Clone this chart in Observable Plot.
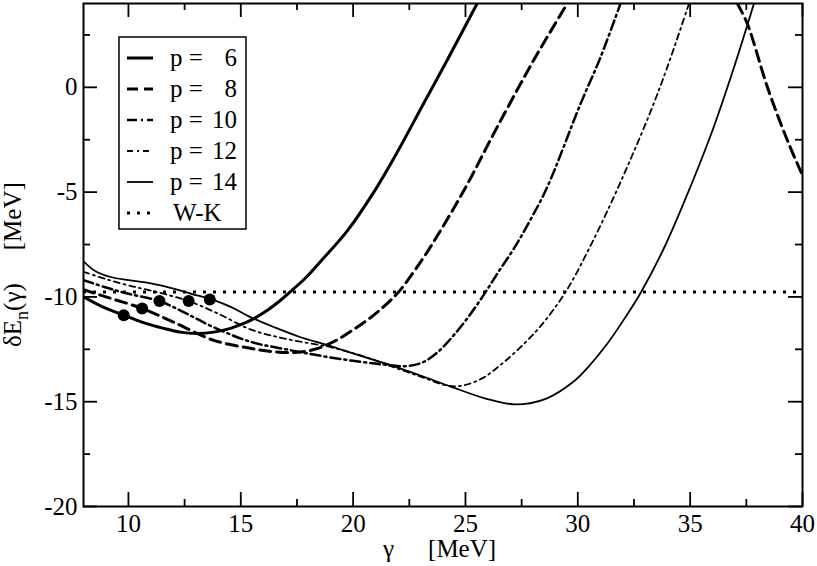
<!DOCTYPE html>
<html><head><meta charset="utf-8">
<script src="https://cdn.jsdelivr.net/npm/d3@7"></script>
<script src="https://cdn.jsdelivr.net/npm/@observablehq/plot@0.6"></script>
<style>body{margin:0;background:#fff}</style>
</head><body><div id="chart"></div>
<script>
// Series: [gamma (MeV), deltaE (MeV)]
const p6 = [[8,-10.0],[8.8,-10.45],[9.79,-10.87],[10.6,-11.2],[11.57,-11.5],[12.3,-11.68],[13.06,-11.74],[13.8,-11.68],[14.54,-11.5],[15.0,-11.32],[15.5,-11.08],[16.1,-10.7],[16.77,-10.16],[17.1,-9.85],[17.88,-9.1],[18.6,-8.25],[19.74,-6.85],[20.92,-5.0],[21.96,-3.1],[23.15,-0.75],[24.19,1.3],[25.52,4.0]];
const p8 = [[8,-9.65],[9,-10.0],[10.61,-10.55],[12,-11.2],[13.8,-12.07],[15.43,-12.45],[16.5,-12.62],[17.4,-12.65],[18.3,-12.5],[19.2,-12.1],[20.1,-11.5],[21.0,-10.8],[21.96,-9.84],[22.7,-8.8],[23.45,-7.6],[24.93,-4.92],[26.41,-1.9],[28.04,1.3],[29.53,4.0],[33,NaN],[37.1,4.0],[37.55,3.02],[38.44,0],[39.33,-2.54],[40,-4.2]];
const p10 = [[8,-9.2],[9,-9.55],[10,-9.85],[11.38,-10.2],[12.5,-10.75],[13.8,-11.45],[15.43,-12.14],[17,-12.5],[18.5,-12.8],[20,-13.05],[21.3,-13.22],[22.4,-13.3],[23.1,-13.12],[23.8,-12.6],[24.5,-11.8],[25.2,-10.85],[25.9,-9.76],[26.5,-8.75],[27.15,-7.7],[27.9,-6.3],[28.64,-4.76],[30.12,-0.79],[31.01,1.43],[31.9,4.0]];
const p12 = [[8,-8.8],[9,-9.15],[10,-9.45],[11.2,-9.75],[12.68,-10.2],[14,-10.8],[15.43,-11.55],[17,-12.0],[19,-12.4],[20.5,-12.85],[21.8,-13.35],[23,-13.8],[24.3,-14.25],[25,-14.2],[25.8,-13.85],[26.5,-13.3],[27.3,-12.55],[28.3,-11.45],[29.46,-9.76],[30.5,-7.7],[31.53,-5.4],[32.4,-3.3],[33.24,-1.15],[33.98,0.95],[34.95,4.0]];
const p14 = [[8,-8.3],[8.5,-8.75],[9.2,-9.05],[10,-9.2],[11,-9.35],[12,-9.6],[12.8,-9.85],[13.8,-10.15],[14.6,-10.5],[15.4,-10.95],[16.5,-11.45],[17.6,-11.9],[18.85,-12.3],[20.3,-12.8],[21.8,-13.3],[23,-13.75],[24.4,-14.3],[25.9,-14.85],[27.25,-15.13],[28.6,-14.85],[29.8,-14.05],[30.5,-13.3],[31.3,-12.25],[32.1,-11.0],[32.8,-9.8],[33.8,-7.75],[34.72,-5.5],[35.91,-2.3],[36.95,0.95],[37.84,4.0]];
const wkLevel = -9.76;
const dotsX = [9.79, 10.61, 11.38, 12.68, 13.62];
const dotsY = [-10.87, -10.55, -10.2, -10.2, -10.12];
const xMajor = [10, 15, 20, 25, 30, 35, 40];
const xMinor = [12.5, 17.5, 22.5, 27.5, 32.5, 37.5];
const yMajor = [-20, -15, -10, -5, 0];
const yMinor = [-17.5, -12.5, -7.5, -2.5, 2.5];
const legendP = ["6", "8", "10", "12", "14"];

const W = 817, H = 566, mL = 83, mR = 15, mT = 3, mB = 60;
const fw = W - mL - mR, fh = H - mT - mB;
const styles = [
  {data: p6, strokeWidth: 3, dash: null},
  {data: p8, strokeWidth: 3, dash: "11,6"},
  {data: p10, strokeWidth: 2.5, dash: "10,4,2,4"},
  {data: p12, strokeWidth: 1.8, dash: "6,4,2,4"},
  {data: p14, strokeWidth: 1.8, dash: null}
];
const font = "'Liberation Serif', 'Times New Roman', serif";
const tf = d => String(d);

const marks = [];
for (const s of styles) {
  marks.push(Plot.line(s.data, {x: d => d[0], y: d => d[1], stroke: "black", strokeWidth: s.strokeWidth,
    strokeDasharray: s.dash, curve: "catmull-rom", clip: true}));
}
marks.push(Plot.ruleY([wkLevel], {stroke: "black", strokeWidth: 3, strokeDasharray: "3,7"}));
marks.push(Plot.dot(dotsX.map((x, i) => ({x, y: dotsY[i]})), {x: "x", y: "y", r: 6, fill: "black", stroke: "none"}));
// inward ticks on all four sides
marks.push(Plot.tickX(xMajor, {x: d => d, insetTop: fh - 14, strokeWidth: 1.8}));
marks.push(Plot.tickX(xMinor, {x: d => d, insetTop: fh - 7, strokeWidth: 1.8}));
marks.push(Plot.tickX(xMajor, {x: d => d, insetBottom: fh - 14, strokeWidth: 1.8}));
marks.push(Plot.tickX(xMinor, {x: d => d, insetBottom: fh - 7, strokeWidth: 1.8}));
marks.push(Plot.tickY(yMajor, {y: d => d, insetRight: fw - 14, strokeWidth: 1.8}));
marks.push(Plot.tickY(yMinor, {y: d => d, insetRight: fw - 7, strokeWidth: 1.8}));
marks.push(Plot.tickY(yMajor, {y: d => d, insetLeft: fw - 14, strokeWidth: 1.8}));
marks.push(Plot.tickY(yMinor, {y: d => d, insetLeft: fw - 7, strokeWidth: 1.8}));
marks.push(Plot.axisX({ticks: xMajor, tickSize: 0, tickPadding: 8, tickFormat: tf, label: null, fontSize: 25}));
marks.push(Plot.axisY({ticks: yMajor, tickSize: 0, tickPadding: 6, tickFormat: tf, label: null, fontSize: 25}));
marks.push(Plot.frame({stroke: "black", strokeWidth: 2}));

const svg = Plot.plot({
  width: W, height: H, marginLeft: mL, marginRight: mR, marginTop: mT, marginBottom: mB,
  x: {domain: [8, 40], label: null},
  y: {domain: [-20, 4], label: null},
  style: {fontFamily: font, fontSize: "25px", color: "black", background: "white", overflow: "visible"},
  marks
});
document.getElementById("chart").appendChild(svg);

const s = d3.select(svg);
// Axis titles
const xl = s.append("text").attr("x", 383).attr("y", 557).attr("text-anchor", "start")
  .attr("font-family", font).attr("font-size", 25).attr("fill", "black");
xl.append("tspan").text("γ");
xl.append("tspan").attr("dx", 34).text("[MeV]");
const yl = s.append("text").attr("transform", "translate(21,347) rotate(-90)").attr("text-anchor", "start")
  .attr("font-family", font).attr("font-size", 25).attr("fill", "black");
yl.append("tspan").text("δE");
yl.append("tspan").attr("font-size", 18).attr("dy", 7).text("n");
yl.append("tspan").attr("dy", -7).text("(γ)");
yl.append("tspan").attr("dx", 33).text("[MeV]");

// Legend
const lg = s.append("g").attr("font-family", font).attr("font-size", 25).attr("fill", "black").attr("text-anchor", "start");
lg.append("rect").attr("x", 119).attr("y", 37).attr("width", 127).attr("height", 192).attr("fill", "white").attr("stroke", "black").attr("stroke-width", 1.5);
const rows = [58, 89, 120, 151, 182, 213];
styles.forEach((st, i) => {
  lg.append("line").attr("x1", 127).attr("x2", 153).attr("y1", rows[i]).attr("y2", rows[i])
    .attr("stroke", "black").attr("stroke-width", st.strokeWidth).attr("stroke-dasharray", st.dash);
  lg.append("text").attr("x", 170).attr("y", rows[i]).attr("dy", "0.33em").text("p =");
  lg.append("text").attr("x", 237).attr("y", rows[i]).attr("dy", "0.33em").attr("text-anchor", "end").text(legendP[i]);
});
lg.append("line").attr("x1", 127).attr("x2", 153).attr("y1", rows[5]).attr("y2", rows[5])
  .attr("stroke", "black").attr("stroke-width", 3).attr("stroke-dasharray", "3,7");
lg.append("text").attr("x", 173).attr("y", rows[5]).attr("dy", "0.33em").text("W-K");
</script>
</body></html>
